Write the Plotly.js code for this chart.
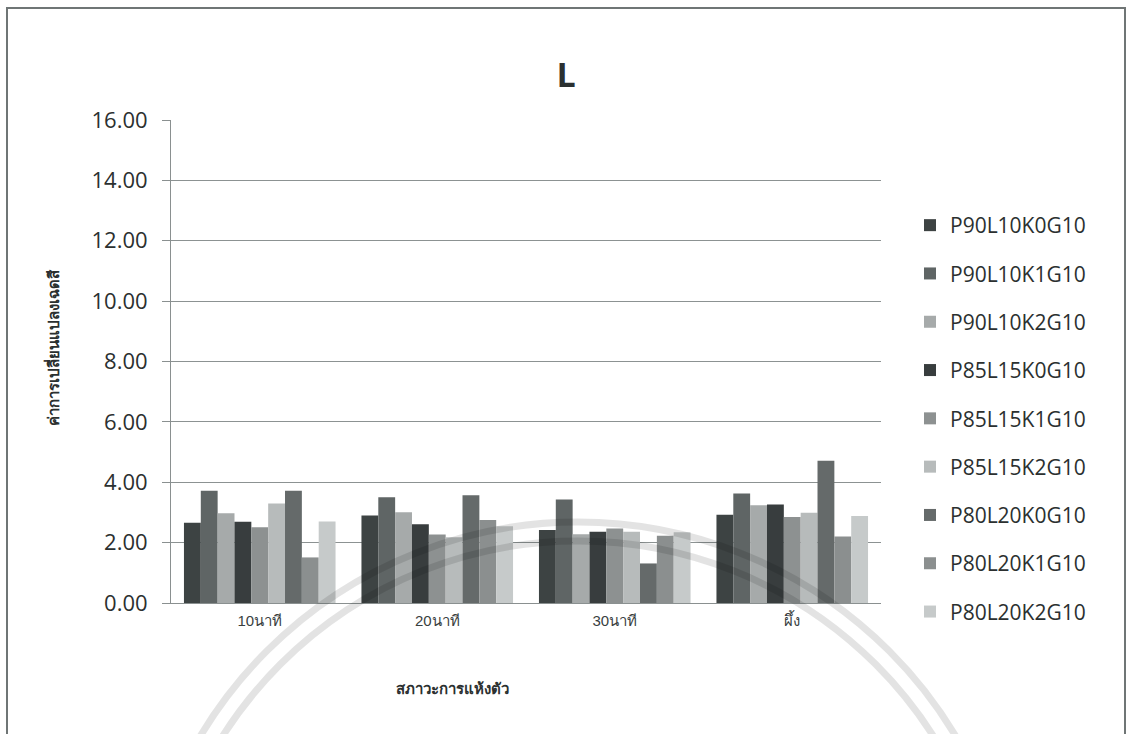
<!DOCTYPE html>
<html>
<head>
<meta charset="utf-8">
<script src="https://cdn.plot.ly/plotly-3.0.1.min.js"></script>
<style>
  html, body { margin: 0; padding: 0; background: #ffffff; }
  #chart { width: 1129px; height: 734px; }
</style>
</head>
<body>
<div id="chart"></div>
<script>
// Drying conditions on the category axis
const categories = ['10นาที', '20นาที', '30นาที', 'ผึ้ง'];

// Formulation names, one series each
const seriesNames = [
  'P90L10K0G10', 'P90L10K1G10', 'P90L10K2G10',
  'P85L15K0G10', 'P85L15K1G10', 'P85L15K2G10',
  'P80L20K0G10', 'P80L20K1G10', 'P80L20K2G10'
];

// L colour-change values per formulation, in category order
const P90L10K0G10 = [2.66, 2.90, 2.42, 2.92];
const P90L10K1G10 = [3.72, 3.50, 3.43, 3.63];
const P90L10K2G10 = [2.97, 3.01, 2.28, 3.24];
const P85L15K0G10 = [2.69, 2.61, 2.36, 3.26];
const P85L15K1G10 = [2.51, 2.27, 2.47, 2.85];
const P85L15K2G10 = [3.30, 2.18, 2.36, 2.99];
const P80L20K0G10 = [3.72, 3.57, 1.31, 4.71];
const P80L20K1G10 = [1.51, 2.75, 2.23, 2.20];
const P80L20K2G10 = [2.70, 2.54, 2.34, 2.88];

const yTickValues = [0, 2, 4, 6, 8, 10, 12, 14, 16];

const seriesValues = [
  P90L10K0G10, P90L10K1G10, P90L10K2G10,
  P85L15K0G10, P85L15K1G10, P85L15K2G10,
  P80L20K0G10, P80L20K1G10, P80L20K2G10
];

const seriesColors = [
  '#3d4343', '#5f6565', '#a6aaaa',
  '#383d3e', '#8d9191', '#b7bbbb',
  '#656a6a', '#8b8f8f', '#c6caca'
];

const traces = seriesNames.map((name, i) => ({
  type: 'bar',
  name: name,
  x: categories,
  y: seriesValues[i],
  legendgroup: 'g' + i,
  marker: { color: seriesColors[i], line: { width: 0 } },
  hoverinfo: 'x+y+name'
}));

// plot-area geometry in pixels
const W = 1129, H = 734;
const L = 171, R = 881, T = 120, B = 603;
const px = (x) => (x - L) / (R - L);
const py = (y) => (B - y) / (B - T);

const circle = (cx, cy, r, color, w) => ({
  type: 'circle', xref: 'paper', yref: 'paper', layer: 'above',
  x0: px(cx - r), x1: px(cx + r), y0: py(cy + r), y1: py(cy - r),
  line: { color: color, width: w }
});

const layout = {
  width: W, height: H,
  margin: { l: L, r: W - R, t: T, b: H - B, pad: 0 },
  paper_bgcolor: '#ffffff',
  plot_bgcolor: '#ffffff',
  font: { family: 'Open Sans, Noto Sans, sans-serif', color: '#2b3030' },
  title: {
    text: '<b>L</b>',
    font: { size: 34, family: 'Open Sans, sans-serif', color: '#2b3030' },
    x: 566 / W, xref: 'container', xanchor: 'center',
    y: 1 - 75 / H, yref: 'container', yanchor: 'middle'
  },
  barmode: 'group',
  bargap: 0.146,
  bargroupgap: 0,
  showlegend: true,
  legend: {
    x: px(910), xanchor: 'left',
    y: py(205), yanchor: 'top',
    font: { size: 21, family: 'Open Sans, sans-serif', color: '#2b3030' },
    tracegroupgap: 18,
    bgcolor: 'rgba(0,0,0,0)',
    itemclick: false
  },
  xaxis: {
    type: 'category',
    showgrid: false,
    showline: true, linecolor: '#8a9090', linewidth: 1,
    ticks: '',
    tickfont: { size: 15, family: 'Liberation Sans, Arial, sans-serif', color: '#3a3f3f' },
    ticklabelstandoff: 4
  },
  yaxis: {
    range: [0, 16],
    tickvals: yTickValues,
    tickformat: '.2f',
    showgrid: true, gridcolor: '#8c9292', gridwidth: 1,
    zeroline: false,
    showline: true, linecolor: '#8a9090', linewidth: 1,
    ticks: 'outside', ticklen: 8, tickcolor: '#8a9090',
    tickfont: { size: 22, family: 'Open Sans, sans-serif', color: '#2b3030' },
    ticklabelstandoff: 10
  },
  annotations: [
    {
      text: '<b>ค่าการเปลี่ยนแปลงเฉดสี</b>',
      xref: 'paper', yref: 'paper', x: px(52), y: py(348),
      xanchor: 'center', yanchor: 'middle', textangle: -90, showarrow: false,
      font: { size: 15, family: 'Liberation Sans, Arial, sans-serif', color: '#2b3030' }
    },
    {
      text: '<b>สภาวะการแห้งตัว</b>',
      xref: 'paper', yref: 'paper', x: px(452), y: py(688),
      xanchor: 'center', yanchor: 'middle', showarrow: false,
      font: { size: 15, family: 'Liberation Sans, Arial, sans-serif', color: '#2b3030' }
    }
  ],
  shapes: [
    // faint seal printed behind the figure
    circle(578, 962, 440, 'rgba(0,0,0,0.11)', 7),
    circle(578, 962, 421, 'rgba(0,0,0,0.11)', 7),
    // frame around the figure
    {
      type: 'rect', xref: 'paper', yref: 'paper', layer: 'above',
      x0: px(7), x1: px(1125), y0: py(745), y1: py(8),
      line: { color: '#6f7575', width: 2 }, fillcolor: 'rgba(0,0,0,0)'
    }
  ]
};

Plotly.newPlot('chart', traces, layout, { displayModeBar: false, staticPlot: true });
</script>
</body>
</html>
